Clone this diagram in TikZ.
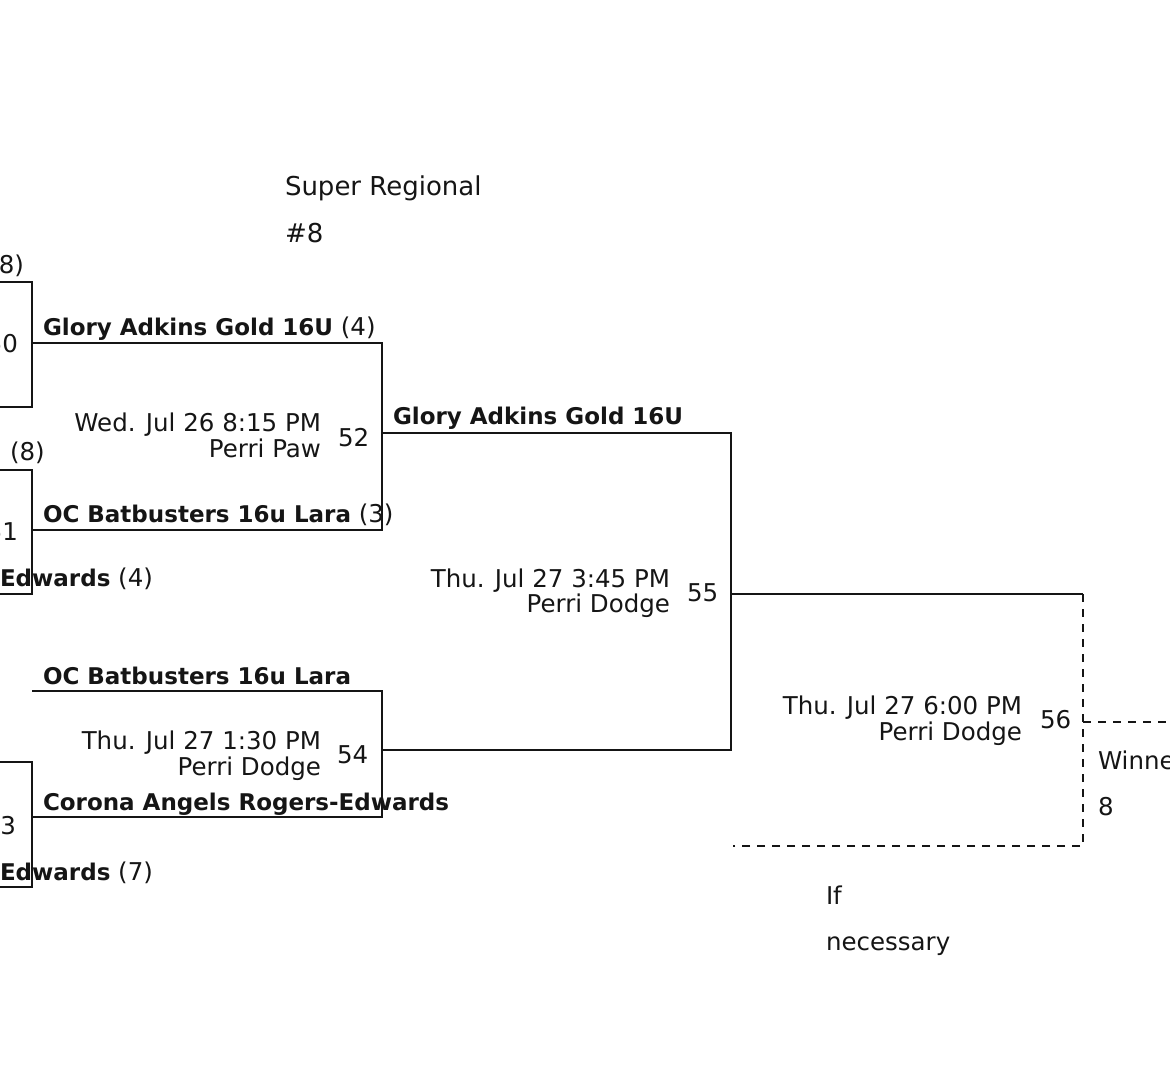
\documentclass[tikz,border=0pt]{standalone}
\usepackage{fontspec}
\setmainfont{DejaVu Sans}
\definecolor{ink}{HTML}{151515}
\begin{document}
\begin{tikzpicture}[x=1pt,y=-1pt,
  lbl/.style={inner sep=0pt, outer sep=0pt, text=ink, font=\fontsize{24.5}{26}\selectfont},
  team/.style={lbl},
  hdr/.style={lbl, font=\fontsize{26}{28}\selectfont},
  wire/.style={draw=ink, line width=2pt, line join=miter},
  dashwire/.style={draw=ink, line width=1.6pt, dash pattern=on 8pt off 7pt}]
\newcommand{\tm}[1]{{\fontsize{23}{26}\selectfont\bfseries #1}}
\useasboundingbox (0,0) rectangle (1170,1077);
\clip (0,0) rectangle (1170,1077);

% ---- coordinates
\coordinate (a50t) at (0,282);   \coordinate (b50t) at (32,282);
\coordinate (b50b) at (32,407);  \coordinate (a50b) at (0,407);
\coordinate (o50) at (32,343);
\coordinate (a51t) at (0,470);   \coordinate (b51t) at (32,470);
\coordinate (b51b) at (32,594);  \coordinate (a51b) at (0,594);
\coordinate (o51) at (32,530);
\coordinate (c52t) at (382,343); \coordinate (c52b) at (382,530);
\coordinate (c52m) at (382,433);
\coordinate (a54t) at (32,691);  \coordinate (c54t) at (382,691);
\coordinate (c54b) at (382,817); \coordinate (c54m) at (382,750);
\coordinate (a53t) at (0,762);   \coordinate (b53t) at (32,762);
\coordinate (b53b) at (32,887);  \coordinate (a53b) at (0,887);
\coordinate (o53) at (32,817);
\coordinate (c55t) at (731,433); \coordinate (c55b) at (731,750);
\coordinate (c55m) at (731,594);
\coordinate (c56t) at (1083,594); \coordinate (c56b) at (1083,846);
\coordinate (d56l) at (733,846);  \coordinate (c56m) at (1083,722);
\coordinate (fin) at (1172,722);

% ---- connectors
\draw[wire] (a50t) -- (b50t) -- (b50b) -- (a50b);
\draw[wire] (a51t) -- (b51t) -- (b51b) -- (a51b);
\draw[wire] (a53t) -- (b53t) -- (b53b) -- (a53b);
\draw[wire] (o50) -- (c52t) -- (c52b) -- (o51);
\draw[wire] (a54t) -- (c54t) -- (c54b) -- (o53);
\draw[wire] (c52m) -- (c55t) -- (c55b) -- (c54m);
\draw[wire] (c55m) -- (c56t);
\draw[dashwire] (c56t) -- (c56b) -- (d56l);
\draw[dashwire] (c56m) -- (fin);

% ---- texts
\node[hdr, anchor=base west] (sr) at (285,195) {Super Regional};
\node[hdr, anchor=base west] (sr8) at (285,242) {\#8};

\node[lbl, anchor=base east] (s8a) at (24,273) {(8)};
\node[lbl, anchor=base east] (n50) at (18,352) {50};
\node[team, anchor=base west] (t1) at (43,335) {\tm{Glory Adkins Gold 16U} (4)};
\node[lbl, anchor=base east] (d52a) at (321,431) {Wed. Jul 26 8:15 PM};
\node[lbl, anchor=base east] (d52b) at (321,457) {Perri Paw};
\node[lbl, anchor=base west] (n52) at (338,446) {52};
\node[team, anchor=base west] (w52) at (393,424) {\tm{Glory Adkins Gold 16U}};

\node[lbl, anchor=base west] (s8b) at (10,460) {(8)};
\node[lbl, anchor=base east] (n51) at (18,540) {51};
\node[team, anchor=base west] (t2) at (43,522) {\tm{OC Batbusters 16u Lara} (3)};
\node[team, anchor=base west] (e4) at (0,586) {\tm{Edwards} (4)};

\node[lbl, anchor=base east] (d55a) at (670,587) {Thu. Jul 27 3:45 PM};
\node[lbl, anchor=base east] (d55b) at (670,612) {Perri Dodge};
\node[lbl, anchor=base west] (n55) at (687,601) {55};

\node[team, anchor=base west] (t3) at (43,684) {\tm{OC Batbusters 16u Lara}};
\node[lbl, anchor=base east] (d54a) at (321,749) {Thu. Jul 27 1:30 PM};
\node[lbl, anchor=base east] (d54b) at (321,775) {Perri Dodge};
\node[lbl, anchor=base west] (n54) at (337,763) {54};
\node[team, anchor=base west] (t4) at (43,810) {\tm{Corona Angels Rogers-Edwards}};
\node[lbl, anchor=base east] (n53) at (16,834) {53};
\node[team, anchor=base west] (e7) at (0,880) {\tm{Edwards} (7)};

\node[lbl, anchor=base east] (d56a) at (1022,714) {Thu. Jul 27 6:00 PM};
\node[lbl, anchor=base east] (d56b) at (1022,740) {Perri Dodge};
\node[lbl, anchor=base west] (n56) at (1040,728) {56};

\node[lbl, anchor=base west] (win) at (1098,769) {Winner};
\node[lbl, anchor=base west] (win8) at (1098,815) {8};
\node[lbl, anchor=base west] (ifn) at (826,904) {If};
\node[lbl, anchor=base west] (nec) at (826,950) {necessary};
\end{tikzpicture}
\end{document}
